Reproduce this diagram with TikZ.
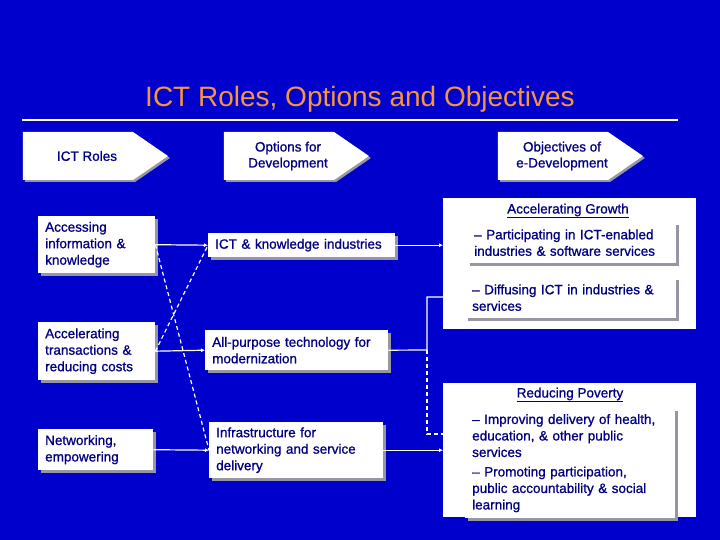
\documentclass[tikz,border=0pt]{standalone}
\usepackage{fontspec}
\setmainfont{Liberation Sans}
\newfontfamily\boxfont{Liberation Sans}[FakeBold=1,Ligatures=TeX]
\usepackage{tikz}
\usetikzlibrary{positioning}
\usetikzlibrary{shapes.symbols,shadows,arrows.meta}
\definecolor{bgblue}{RGB}{0,0,204}
\definecolor{titleorange}{RGB}{246,150,60}
\definecolor{navytext}{RGB}{0,0,128}
\definecolor{shadowgray}{RGB}{150,150,165}

\begin{document}
\begin{tikzpicture}[x=1pt,y=-1pt,
headnode/.style={signal, signal to=east, signal pointer angle=69, fill=white, minimum width=145pt, minimum height=48pt, drop shadow={shadow xshift=2pt, shadow yshift=-2pt, fill=shadowgray, opacity=1}},
headlabel/.style={text=navytext, align=center, xshift=9pt, font=\boxfont\fontsize{13.5}{16}\selectfont},
boxnode/.style={rectangle, fill=white, text=navytext, align=left, anchor=north west, inner xsep=7pt, inner ysep=0pt, font=\boxfont\fontsize{13.5}{16.5}\selectfont, drop shadow={shadow xshift=3pt, shadow yshift=-3pt, fill=shadowgray, opacity=1}},
bignode/.style={rectangle, fill=white, anchor=north west, inner sep=0pt, minimum width=253pt},
linkline/.style={white, line width=1.2pt, -{Latex[length=4pt,width=4pt]}},
plainline/.style={white, line width=1.2pt},
dashline/.style={white, line width=1.2pt, dash pattern=on 4pt off 3pt},
]
%Background
\fill[bgblue] (0,0) rectangle (720,540);
\useasboundingbox (0,0) rectangle (720,540);
%Title
\node[text=titleorange, font=\fontsize{28}{30}\selectfont, anchor=base] (title) at (360,107) {ICT Roles, Options and Objectives};
\draw[white, line width=2pt] (22,120) -- (678,120);
%Nodes
\node[headnode, label={[headlabel]center:ICT Roles}]                    (roles)      at (78,156)  {};
\node[headnode, label={[headlabel]center:Options for\\Development}]     (options)    at (279,156) {};
\node[headnode, label={[headlabel]center:Objectives of\\e-Development}] (objectives) at (553,156) {};

\node[boxnode, text width=103pt, minimum height=57pt] (access)  at (38,216)  {Accessing\\information \&\\knowledge};
\node[boxnode, text width=103pt, minimum height=58pt] (accel)   at (38,322)  {Accelerating\\transactions \&\\reducing costs};
\node[boxnode, text width=101pt, minimum height=41pt] (network) at (38,429)  {Networking,\\empowering};

\node[boxnode, text width=173pt, minimum height=24pt] (ictind)  at (208,233) {ICT \& knowledge industries};
\node[boxnode, text width=169pt, minimum height=40pt] (allpurp) at (205,330) {All-purpose technology for\\modernization};
\node[boxnode, text width=160pt, minimum height=56pt] (infra)   at (209,422) {Infrastructure for\\networking and service\\delivery};

\node[bignode, minimum height=131pt] (growth)  at (443,198) {};
\node[boxnode, text width=195pt, minimum height=41pt] (gr1) at (467,222) {\textendash{} Participating in ICT-enabled\\industries \& software services};
\node[boxnode, text width=197pt, minimum height=41pt] (gr2) at (465,277) {\textendash{} Diffusing ICT in industries \&\\services};

\node[bignode, minimum height=134pt] (poverty) at (443,383) {};
\node[boxnode, text width=196pt, minimum height=110pt] (pv1) at (465,408) {\textendash{} Improving delivery of health,\\education, \& other public\\services\\[3pt]\textendash{} Promoting participation,\\public accountability \& social\\learning};
%Text
\node[text=navytext, font=\boxfont\fontsize{13.5}{16.5}\selectfont] (growthtitle)  at (568,211) {\underline{Accelerating Growth}};
\node[text=navytext, font=\boxfont\fontsize{13.5}{16.5}\selectfont] (povertytitle) at (570,395) {\underline{Reducing Poverty}};
%Lines
\coordinate (split)     at (427,350);
\coordinate (growthin)  at (443,297);
\coordinate (povertyin) at (443,434);
\draw[linkline] (access.east) -- (ictind.west);
\draw[linkline] (accel.east) -- (allpurp.west);
\draw[linkline] (network.east) -- (infra.west);
\draw[linkline] (ictind.east) -- (ictind.east -| growth.west);
\draw[linkline] (infra.east) -- (infra.east -| poverty.west);
\draw[plainline] (allpurp.east) -- (split) |- (growthin);
\draw[dashline] (split) |- (povertyin);
\draw[dashline] (access.east) -- (infra.west);
\draw[dashline] (accel.east) -- (ictind.west);
\end{tikzpicture}
\end{document}
